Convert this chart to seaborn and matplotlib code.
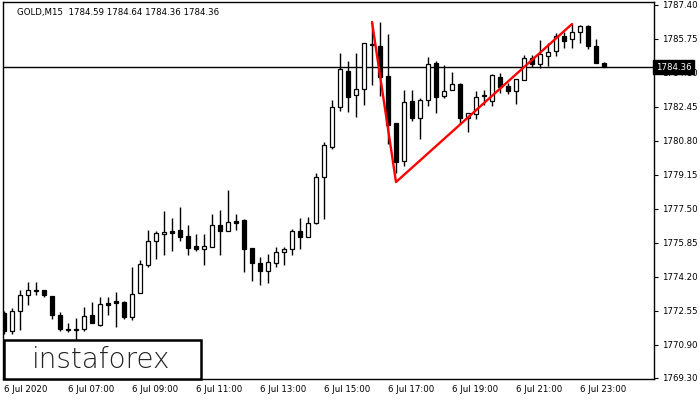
import pandas as pd
import matplotlib.pyplot as plt
import matplotlib.transforms as mtransforms
from matplotlib.patches import Rectangle
import seaborn as sns

# GOLD M15, 6 Jul 2020, one bar every 15 minutes from 05:00
times = pd.date_range("2020-07-06 05:00", periods=76, freq="15min")

opens = [1772.45, 1771.55, 1772.52, 1773.29, 1773.55, 1773.55, 1773.26, 1772.32,
         1771.67, 1771.66, 1771.64, 1772.32, 1771.87, 1772.90, 1773.00, 1772.97,
         1772.22, 1773.39, 1774.78, 1775.91, 1776.27, 1776.40, 1776.46, 1776.17,
         1775.69, 1775.56, 1775.65, 1776.72, 1776.43, 1776.91, 1776.95, 1775.59,
         1774.85, 1774.49, 1774.85, 1775.40, 1775.53, 1776.40, 1776.11, 1776.79,
         1779.05, 1780.48, 1782.45, 1784.18, 1783.00, 1783.33, 1785.49, 1785.40,
         1783.93, 1781.65, 1779.80, 1782.72, 1781.92, 1782.76, 1784.58, 1782.96,
         1783.25, 1783.54, 1781.91, 1782.08, 1782.97, 1782.72, 1783.88, 1783.46,
         1783.23, 1783.73, 1784.80, 1784.51, 1784.93, 1785.13, 1785.87, 1785.71,
         1786.06, 1786.36, 1785.41, 1784.59]
highs = [1772.53, 1772.68, 1773.55, 1773.94, 1773.94, 1773.55, 1773.26, 1772.48,
         1771.93, 1772.19, 1772.74, 1772.97, 1773.23, 1773.20, 1773.45, 1773.00,
         1774.65, 1775.01, 1776.46, 1776.43, 1777.37, 1777.05, 1777.59, 1776.69,
         1776.27, 1776.27, 1777.24, 1777.43, 1778.40, 1777.24, 1776.98, 1775.59,
         1775.14, 1775.30, 1775.65, 1775.65, 1776.50, 1777.05, 1777.11, 1779.22,
         1780.74, 1782.77, 1785.07, 1784.67, 1785.07, 1785.53, 1786.56, 1786.56,
         1785.97, 1781.65, 1783.28, 1783.25, 1782.85, 1784.85, 1784.68, 1784.46,
         1784.12, 1783.62, 1782.14, 1783.22, 1783.25, 1784.04, 1784.09, 1783.58,
         1783.78, 1784.96, 1784.96, 1785.69, 1785.53, 1786.04, 1786.09, 1786.46,
         1786.43, 1786.43, 1785.72, 1784.64]
lows = [1771.40, 1771.41, 1771.61, 1772.84, 1773.29, 1773.20, 1772.16, 1771.57,
        1771.51, 1771.12, 1771.57, 1771.93, 1771.80, 1772.35, 1771.77, 1772.13,
        1772.09, 1773.39, 1774.68, 1775.07, 1775.26, 1775.46, 1775.94, 1775.26,
        1775.46, 1774.75, 1775.65, 1775.26, 1776.40, 1776.46, 1774.42, 1774.00,
        1773.81, 1773.88, 1774.65, 1774.78, 1775.26, 1775.56, 1776.11, 1776.75,
        1777.01, 1780.38, 1782.25, 1782.19, 1781.96, 1782.53, 1783.50, 1782.99,
        1780.64, 1779.23, 1779.59, 1781.76, 1780.90, 1782.50, 1782.12, 1782.87,
        1783.25, 1781.65, 1781.23, 1781.84, 1782.55, 1782.46, 1783.10, 1783.04,
        1782.60, 1783.73, 1784.39, 1784.34, 1784.40, 1784.93, 1785.28, 1785.28,
        1785.55, 1785.26, 1784.59, 1784.36]
closes = [1771.57, 1772.55, 1773.29, 1773.55, 1773.49, 1773.29, 1772.35, 1771.64,
          1771.61, 1771.63, 1772.29, 1771.93, 1772.87, 1772.84, 1772.93, 1772.25,
          1773.34, 1774.80, 1775.91, 1776.30, 1776.37, 1776.33, 1776.14, 1775.59,
          1775.56, 1775.69, 1776.69, 1776.43, 1776.85, 1776.82, 1775.56, 1774.88,
          1774.49, 1774.91, 1775.40, 1775.53, 1776.40, 1776.11, 1776.79, 1779.02,
          1780.58, 1782.42, 1784.26, 1782.93, 1783.29, 1785.53, 1785.44, 1783.91,
          1781.58, 1779.74, 1782.70, 1781.92, 1782.76, 1784.51, 1782.90, 1783.23,
          1783.53, 1781.92, 1782.13, 1782.94, 1783.01, 1783.98, 1783.38, 1783.22,
          1783.78, 1784.80, 1784.51, 1784.99, 1785.09, 1785.90, 1785.66, 1786.07,
          1786.36, 1785.41, 1784.59, 1784.36]

# pattern drawn in red: top, bottom, top (bar number, price)
pattern_bars = [46, 49, 71]
pattern_prices = [1786.56, 1778.79, 1786.46]

last_price = 1784.36
title_text = "GOLD,M15  1784.59 1784.64 1784.36 1784.36"
y_ticks = [1787.40, 1785.75, 1784.10, 1782.45, 1780.80, 1779.15,
           1777.50, 1775.85, 1774.20, 1772.55, 1770.90, 1769.30]
x_tick_labels = ["6 Jul 2020", "6 Jul 07:00", "6 Jul 09:00", "6 Jul 11:00",
                 "6 Jul 13:00", "6 Jul 15:00", "6 Jul 17:00", "6 Jul 19:00",
                 "6 Jul 21:00", "6 Jul 23:00"]

sns.set_style("white")
plt.rcParams['font.family'] = ['DejaVu Sans']

df = pd.DataFrame({"time": times, "open": opens, "high": highs,
                   "low": lows, "close": closes})
df["bar"] = range(len(df))

fig = plt.figure(figsize=(7, 4), dpi=100)
ax = fig.add_axes([3 / 700, 21 / 400, 651 / 700, 377 / 400])

# wicks
ax.vlines(df["bar"], df["low"], df["high"], color="black", linewidth=1.0, zorder=2)

# bodies
bottoms = df[["open", "close"]].min(axis=1)
heights = (df["close"] - df["open"]).abs().clip(lower=0.03)
fills = ["white" if c > o else "black" for o, c in zip(df["open"], df["close"])]
ax.bar(df["bar"], heights, bottom=bottoms, width=0.55, color=fills,
       edgecolor="black", linewidth=0.9, zorder=3)

# current price line
ax.axhline(last_price, color="black", linewidth=1.0, zorder=1)

# red pattern
pattern = pd.DataFrame({"bar": pattern_bars, "price": pattern_prices})
sns.lineplot(data=pattern, x="bar", y="price", sort=False, color="#ff0000",
             linewidth=1.7, ax=ax, zorder=4)

ax.set_xlim(-0.125, 81.25)
ax.set_ylim(1769.23, 1787.53)

# axes
tick_pos = [df.index[df["time"] == t][0] for t in
            pd.to_datetime(["2020-07-06 05:00"] +
                           [f"2020-07-06 {h:02d}:00" for h in range(7, 24, 2)])]
ax.set_xticks(tick_pos)
ax.set_xticklabels(x_tick_labels, fontsize=6.2, ha="left")
ax.yaxis.tick_right()
ax.set_yticks(y_ticks)
ax.set_yticklabels([f"{v:.2f}" for v in y_ticks], fontsize=6.2)
ax.tick_params(axis="both", direction="out", length=3, width=0.8, colors="black",
               pad=1.5)
ax.tick_params(axis="y", pad=3)
ax.set_xlabel("")
ax.set_ylabel("")
for sp in ax.spines.values():
    sp.set_visible(True)
    sp.set_color("black")
    sp.set_linewidth(1.0)

# title inside chart
ax.text(0.022, 0.985, title_text, transform=ax.transAxes, fontsize=6.2,
        ha="left", va="top", color="black")

# price label on the right axis, covering the 1784.10 tick label as in MT4
trans = mtransforms.blended_transform_factory(ax.transAxes, ax.transData)
ax.text(1.003, last_price, f"{last_price:.2f}", transform=trans, fontsize=6.2,
        color="white", ha="left", va="center", zorder=6, clip_on=False,
        bbox=dict(boxstyle="square,pad=0.3", facecolor="black", edgecolor="black"))

# logo box
fig.patches.append(Rectangle((4 / 700, 21 / 400), 197 / 700, 39 / 400,
                             transform=fig.transFigure, facecolor="white",
                             edgecolor="black", linewidth=1.8, zorder=10))
fig.text(101 / 700, 40 / 400, "instaforex", fontsize=20, color="#222222",
         fontweight="light", ha="center", va="center", zorder=11)

fig.savefig("out.png", dpi=100)
plt.close(fig)
